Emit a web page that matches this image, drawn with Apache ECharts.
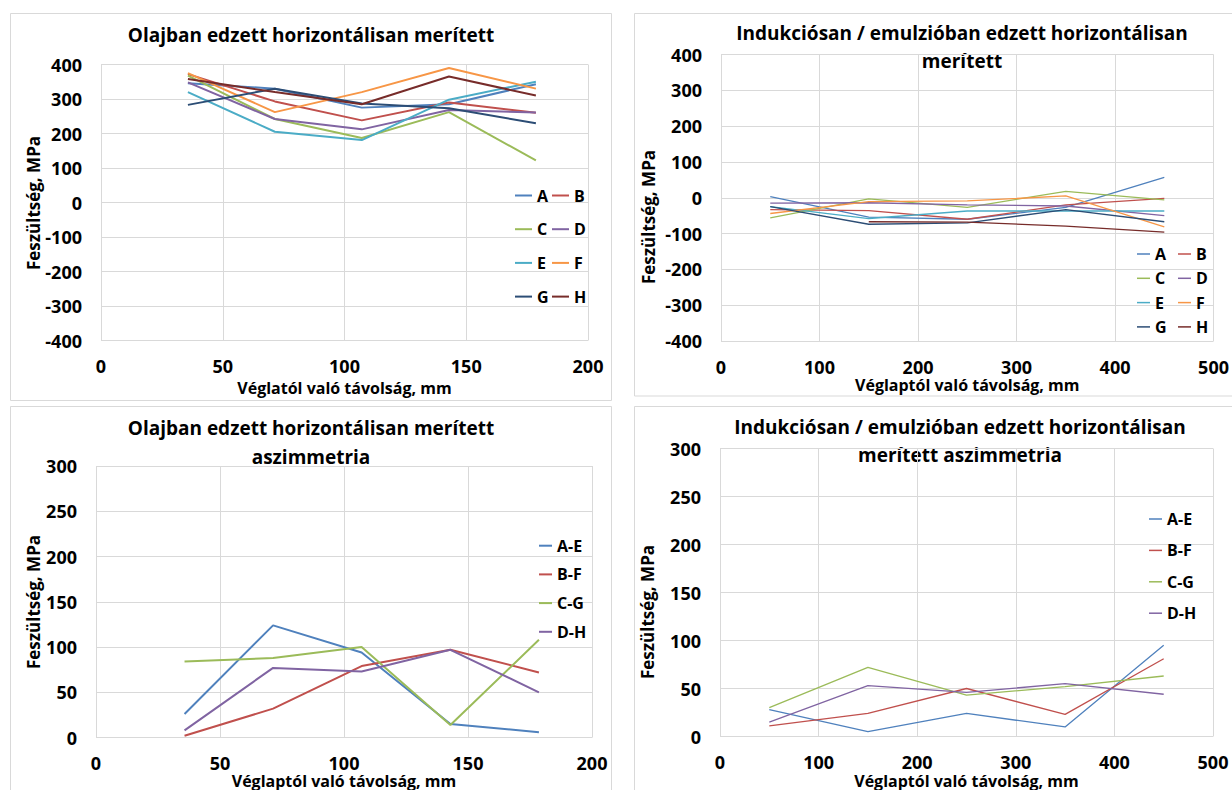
<!DOCTYPE html>
<html>
<head>
<meta charset="utf-8">
<script src="https://cdn.jsdelivr.net/npm/echarts@6/dist/echarts.min.js"></script>
<style>
  html, body { margin: 0; padding: 0; background: #fff; }
  #chart { width: 1232px; height: 790px; }
</style>
</head>
<body>
<div id="chart"></div>
<script>
// Distances from the plate end (mm)
const oilX = [35.7, 71.4, 107.1, 142.9, 178.6];
const indX = [50, 150, 250, 350, 450];

// Oil quenched, horizontally dipped: residual stress (MPa)
const oilA = [346, 330, 275, 285, 343];
const oilB = [372, 293, 238, 290, 260];
const oilC = [368, 242, 187, 262, 122];
const oilD = [348, 242, 212, 268, 261];
const oilE = [320, 205, 181, 298, 350];
const oilF = [375, 262, 320, 390, 330];
const oilG = [283, 330, 287, 273, 230];
const oilH = [358, 320, 285, 365, 310];

// Induction / emulsion quenched, horizontally dipped (MPa)
const indA = [3, -54, -60, -27, 57];
const indB = [-33, -36, -60, -20, -2];
const indC = [-56, -3, -27, 18, -6];
const indD = [-15, -14, -20, -23, -50];
const indE = [-25, -58, -37, -37, -37];
const indF = [-44, -11, -9, 5, -81];
const indG = [-25, -74, -70, -33, -67];
const indH = [null, -67, -68, -79, -96];

// Asymmetry, oil quenched (MPa)
const oilAE = [26, 124, 94, 15, 6];
const oilBF = [2, 32, 79, 97, 72];
const oilCG = [84, 88, 100, 14, 108];
const oilDH = [8, 77, 73, 97, 50];

// Asymmetry, induction / emulsion quenched (MPa)
const indAE = [28, 5, 24, 10, 95];
const indBF = [11, 24, 50, 23, 81];
const indCG = [30, 72, 43, 52, 63];
const indDH = [15, 53, 46, 55, 44];

const pointNames = ['A', 'B', 'C', 'D', 'E', 'F', 'G', 'H'];
const pairNames = ['A-E', 'B-F', 'C-G', 'D-H'];

const colors = {
  'A': '#4F81BD', 'B': '#C0504D', 'C': '#9BBB59', 'D': '#8064A2',
  'E': '#4BACC6', 'F': '#F79646', 'G': '#2C4D75', 'H': '#772C2A',
  'A-E': '#4F81BD', 'B-F': '#C0504D', 'C-G': '#9BBB59', 'D-H': '#8064A2'
};

const FONT = '"Open Sans", "Noto Sans", sans-serif';
const GRIDLINE = '#d9d9d9';

function line(name, xs, ys, idx, width) {
  return {
    name: name,
    type: 'line',
    xAxisIndex: idx,
    yAxisIndex: idx,
    symbol: 'none',
    smooth: false,
    connectNulls: false,
    color: colors[name],
    lineStyle: { width: width, color: colors[name] },
    emphasis: { disabled: true },
    data: xs.map((x, i) => [x, ys[i]])
  };
}

const series = [];
[oilA, oilB, oilC, oilD, oilE, oilF, oilG, oilH].forEach((ys, i) =>
  series.push(line(pointNames[i], oilX, ys, 0, 2)));
[indA, indB, indC, indD, indE, indF, indG, indH].forEach((ys, i) =>
  series.push(line(pointNames[i], indX, ys, 1, 1.3)));
[oilAE, oilBF, oilCG, oilDH].forEach((ys, i) =>
  series.push(line(pairNames[i], oilX, ys, 2, 2)));
[indAE, indBF, indCG, indDH].forEach((ys, i) =>
  series.push(line(pairNames[i], indX, ys, 3, 1.3)));

const labelStyle = { fontFamily: FONT, fontWeight: 'bold', fontSize: 18, color: '#000', lineHeight: 16 };
const nameStyle = { fontFamily: FONT, fontWeight: 'bold', fontSize: 16, color: '#000', lineHeight: 14 };

function xAxis(idx, max, interval, name, gap) {
  return {
    type: 'value', gridIndex: idx, min: 0, max: max, interval: interval,
    axisLine: { show: false }, axisTick: { show: false },
    splitLine: { show: true, lineStyle: { color: GRIDLINE, width: 1 } },
    axisLabel: Object.assign({ margin: 17.5 }, labelStyle),
    name: name, nameLocation: 'middle', nameGap: gap, nameTextStyle: nameStyle
  };
}
function yAxis(idx, min, max, interval) {
  return {
    type: 'value', gridIndex: idx, min: min, max: max, interval: interval,
    axisLine: { show: false }, axisTick: { show: false },
    splitLine: { show: true, lineStyle: { color: GRIDLINE, width: 1 } },
    axisLabel: Object.assign({ margin: 19 }, labelStyle)
  };
}

function legend(names, left, top, pitch, itemWidth, itemHeight) {
  const lh = 20;
  return {
    orient: 'vertical', left: left, top: top, padding: 0,
    itemWidth: itemWidth, itemHeight: itemHeight, itemGap: pitch - lh,
    icon: 'rect', selectedMode: false, data: names,
    textStyle: { fontFamily: FONT, fontWeight: 'bold', fontSize: 16, color: '#000', lineHeight: lh }
  };
}

function text(str, x, y, size, rot) {
  return {
    type: 'text', x: x, y: y, rotation: rot || 0, silent: true,
    style: { text: str, fill: '#000', fontFamily: FONT, fontWeight: 'bold', fontSize: size,
             align: 'center', verticalAlign: 'middle' }
  };
}
function frame(x, y, w, h) {
  return {
    type: 'rect', silent: true, z: -5,
    shape: { x: x, y: y, width: w, height: h },
    style: { fill: 'none', stroke: '#d9d9d9', lineWidth: 1 }
  };
}

const option = {
  backgroundColor: '#fff',
  animation: false,
  grid: [
    { left: 101, top: 64.5, width: 487, height: 276, containLabel: false },
    { left: 721, top: 54.5, width: 495, height: 286.5, containLabel: false },
    { left: 96, top: 466, width: 496, height: 275, containLabel: false },
    { left: 720, top: 448.5, width: 493, height: 289, containLabel: false }
  ],
  xAxis: [
    xAxis(0, 200, 50, 'Véglatól való távolság, mm', 40),
    xAxis(1, 500, 100, 'Véglaptól való távolság, mm', 37),
    xAxis(2, 200, 50, 'Véglaptól való távolság, mm', 34),
    xAxis(3, 500, 100, 'Véglaptól való távolság, mm', 37.5)
  ],
  yAxis: [
    yAxis(0, -400, 400, 100),
    yAxis(1, -400, 400, 100),
    yAxis(2, 0, 300, 50),
    yAxis(3, 0, 300, 50)
  ],
  legend: [
    legend(['A', 'C', 'E', 'G'], 515, 185.5, 33.7, 17, 2),
    legend(['B', 'D', 'F', 'H'], 552, 185.5, 33.7, 17, 2),
    legend(['A', 'C', 'E', 'G'], 1137, 244, 24.3, 13, 1.5),
    legend(['B', 'D', 'F', 'H'], 1178, 244, 24.3, 13, 1.5),
    legend(pairNames, 539, 535.7, 28.7, 13, 2),
    legend(pairNames, 1149, 509, 31.4, 13, 1.5)
  ],
  graphic: [
    frame(10.5, 13.5, 601, 387),
    frame(634.5, 13.5, 620, 382.5),
    frame(10.5, 406.5, 601, 420),
    frame(634.5, 406.5, 620, 420),
    text('Olajban edzett horizontálisan merített', 311, 35, 19),
    text('Indukciósan / emulzióban edzett horizontálisan', 962, 33, 19),
    text('merített', 962, 61, 19),
    text('Olajban edzett horizontálisan merített', 311, 428, 19),
    text('aszimmetria', 311, 457, 19),
    text('Indukciósan / emulzióban edzett horizontálisan', 960, 427, 19),
    text('merített aszimmetria', 960, 455, 19),
    text('Feszültség, MPa', 33.5, 203, 17, Math.PI / 2),
    text('Feszültség, MPa', 648, 217, 17, Math.PI / 2),
    text('Feszültség, MPa', 33.5, 602, 17, Math.PI / 2),
    text('Feszültség, MPa', 647.5, 612, 17, Math.PI / 2)
  ],
  series: series
};

const chart = echarts.init(document.getElementById('chart'), null, { renderer: 'svg', width: 1232, height: 790 });
chart.setOption(option);
</script>
</body>
</html>
